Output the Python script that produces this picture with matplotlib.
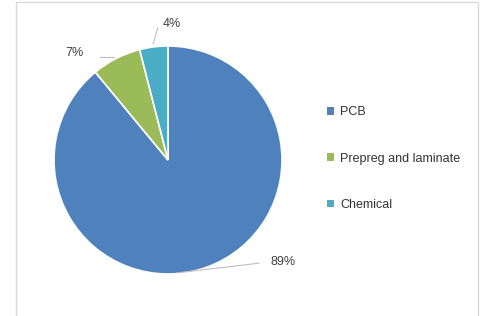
import numpy as np
import matplotlib.pyplot as plt
from matplotlib.patches import Rectangle, Patch

# data
categories = ["PCB", "Prepreg and laminate", "Chemical"]
shares = [89, 7, 4]
colors = ["#4F81BD", "#9BBB59", "#4BACC6"]

W, H = 484, 316
fig = plt.figure(figsize=(W / 100, H / 100), dpi=100)
plt.rcParams['font.family'] = ['Liberation Sans', 'DejaVu Sans']

# chart frame (runs off the bottom of the picture)
fig.patches.append(Rectangle((16 / W, -0.05), (478 - 16) / W, (H - 2) / H + 0.05,
                             transform=fig.transFigure, fill=False,
                             edgecolor="#d9d9d9", linewidth=1))

# pie axes: centre (168,160) px, radius 114 px
cx, cy, r = 168, 160, 114
ax = fig.add_axes([(cx - r) / W, (H - cy - r) / H, 2 * r / W, 2 * r / H])
wedges, _ = ax.pie(shares, colors=colors, startangle=90, counterclock=False,
                   wedgeprops=dict(edgecolor="white", linewidth=1.2))
ax.set_xlim(-1, 1)
ax.set_ylim(-1, 1)
ax.set_aspect("equal")
ax.axis("off")

# data labels with leader lines
label_pos = [(1.01, -0.895), (-0.82, 0.94), (0.03, 1.19)]
line_start = [(0.08, -0.99), (-0.6, 0.905), (-0.13, 1.02)]
line_end = [(0.8, -0.905), (-0.47, 0.905), (-0.09, 1.16)]
for s, lp, a, b in zip(shares, label_pos, line_start, line_end):
    ax.plot([a[0], b[0]], [a[1], b[1]], color="#bfbfbf", lw=0.8, clip_on=False)
    ax.text(lp[0], lp[1], f"{s}%", ha="center", va="center",
            fontsize=9, color="#404040", clip_on=False)

# legend
handles = [Patch(facecolor=c, edgecolor="none") for c in colors]
fig.legend(handles, categories, loc="upper left", bbox_to_anchor=(316 / W, 1 - 95 / H),
           frameon=False, fontsize=9, labelcolor="#333333",
           handlelength=0.55, handleheight=0.55, handletextpad=0.5,
           labelspacing=2.75)

fig.savefig("out.png", dpi=100)
